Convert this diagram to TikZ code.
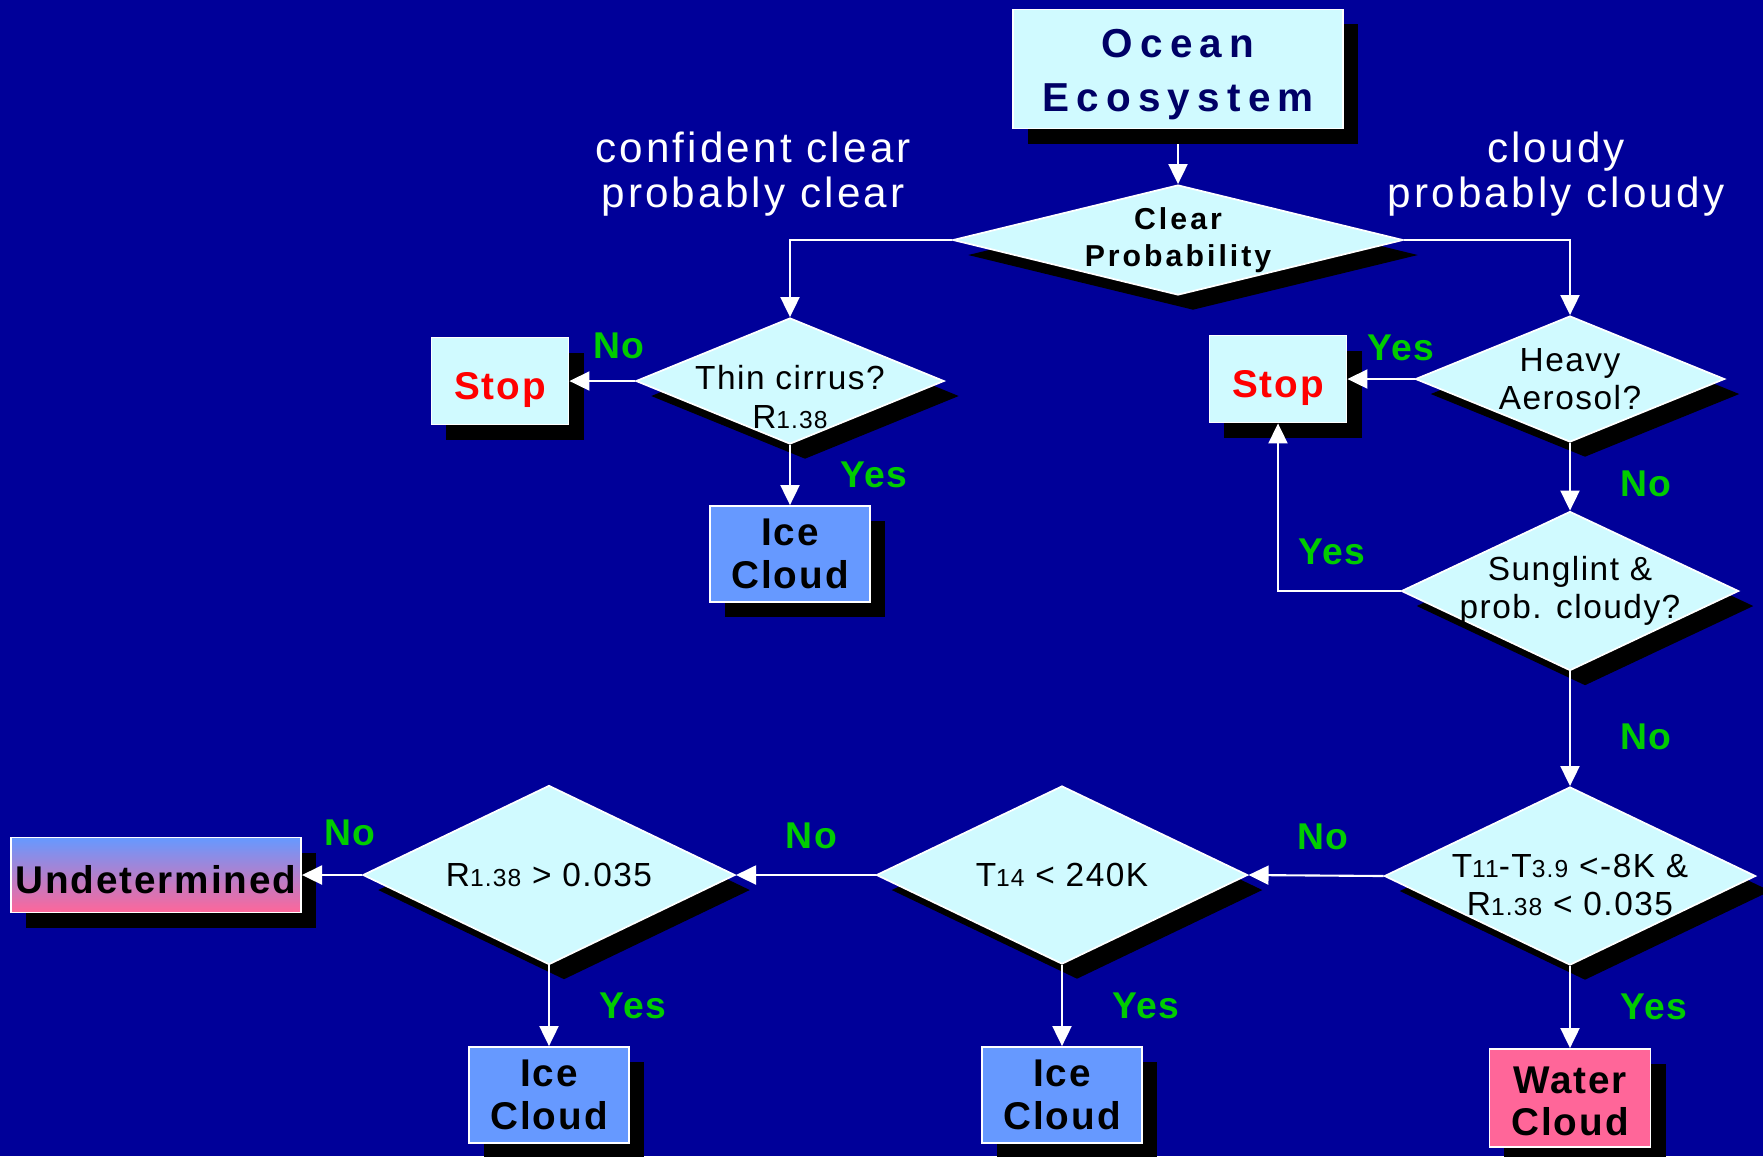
\documentclass[tikz,border=0pt]{standalone}
\usepackage{fontspec}
\setmainfont{Liberation Sans}
\newfontfamily\oceanfont{Liberation Sans}[LetterSpace=18]
\newfontfamily\clearfont{Liberation Sans}[LetterSpace=10]
\newfontfamily\regfont{Liberation Sans}[LetterSpace=7.5]
\newfontfamily\qfont{Liberation Sans}[LetterSpace=4.5]
\newfontfamily\boxfont{Liberation Sans}[LetterSpace=5]
\newfontfamily\lblfont{Liberation Sans}[LetterSpace=4]
\usepackage{tikz}
\usetikzlibrary{arrows.meta, positioning, shapes.geometric, shadows}
\definecolor{bgblue}{RGB}{0,0,153}
\definecolor{paleblue}{RGB}{208,250,255}
\definecolor{iceblue}{RGB}{102,153,255}
\definecolor{waterpink}{RGB}{255,102,153}
\definecolor{yesgreen}{RGB}{0,204,0}
\definecolor{navytext}{RGB}{0,0,102}
\definecolor{stopred}{RGB}{255,0,0}
\newcommand{\smallnum}[1]{{\fontsize{7}{8}\selectfont #1}}
\tikzset{
    shadow style/.style={general shadow={fill=black, shadow xshift=0.15cm, shadow yshift=-0.15cm}},
    box style/.style={draw=white, line width=0.5pt, rectangle, fill=paleblue, shadow style, inner sep=0pt, align=center, font=\boxfont\bfseries\fontsize{11}{12.2}\selectfont},
    decision style/.style={draw=white, line width=0.5pt, diamond, aspect=2.08, fill=paleblue, shadow style, inner sep=-4pt, align=center, font=\qfont\fontsize{9.5}{10.9}\selectfont},
    region style/.style={text=white, align=center, font=\regfont\fontsize{12}{12.8}\selectfont},
    label style/.style={text=yesgreen, inner sep=0pt, font=\lblfont\bfseries\fontsize{10.6}{12}\selectfont},
    arrow style/.style={-{Triangle[length=5.7pt, width=5.4pt]}, draw=white, line width=0.6pt},
}
\begin{document}
\begin{tikzpicture}[x=0.01cm, y=-0.01cm]
        \fill [bgblue] (0,0) rectangle (1763,1156);
        \useasboundingbox (0,0) rectangle (1763,1156);

        \node (ocean) [box style, text=navytext, font=\oceanfont\bfseries\fontsize{11.5}{15.4}\selectfont, minimum width=3.30cm, minimum height=1.19cm] at (1178,69) {\rule{0pt}{11pt}Ocean\\Ecosystem};
        \node (clear) [decision style, aspect=4.09, font=\clearfont\bfseries\fontsize{8.6}{10.6}\selectfont, minimum width=4.50cm, minimum height=1.10cm] at (1178,240) {Clear\\Probability};
        \node (lclear) [region style] at (753,174) {confident clear\\probably clear};
        \node (lcloudy) [region style] at (1556,174) {cloudy\\probably cloudy};

        \node (thin) [decision style, aspect=2.44, inner xsep=-8pt, inner ysep=-6pt, minimum width=3.08cm, minimum height=1.26cm] at (790,381) {\rule{0pt}{16pt}Thin cirrus?\\R\smallnum{1.38}};
        \node (stopl) [box style, text=stopred, minimum width=1.37cm, minimum height=0.87cm] at (500,381) {\rule{0pt}{12.7pt}Stop};
        \node (icea) [box style, fill=iceblue, minimum width=1.60cm, minimum height=0.96cm] at (790,554) {Ice\\Cloud};

        \node (heavy) [decision style, aspect=2.45, minimum width=3.09cm, minimum height=1.26cm] at (1570,379) {Heavy\\Aerosol?};
        \node (stopr) [box style, text=stopred, minimum width=1.37cm, minimum height=0.87cm] at (1278,379) {\rule{0pt}{12.7pt}Stop};
        \node (sung) [decision style, aspect=2.12, minimum width=3.37cm, minimum height=1.59cm] at (1570,591) {Sunglint \&\\prob. cloudy?};
        \node (tdiff) [decision style, minimum width=3.71cm, minimum height=1.78cm] at (1570,876) {\rule{0pt}{11.7pt}T\smallnum{11}-T\smallnum{3.9} <-8K \&\\R\smallnum{1.38} < 0.035};
        \node (water) [box style, fill=waterpink, minimum width=1.61cm, minimum height=0.98cm] at (1570,1098) {\rule{0pt}{9.5pt}Water\\Cloud};

        \node (tlow) [decision style, minimum width=3.71cm, minimum height=1.78cm] at (1062,875) {T\smallnum{14} < 240K};
        \node (iceb) [box style, fill=iceblue, minimum width=1.60cm, minimum height=0.96cm] at (1062,1095) {Ice\\Cloud};
        \node (rhigh) [decision style, minimum width=3.72cm, minimum height=1.79cm] at (549,875) {R\smallnum{1.38} > 0.035};
        \node (icec) [box style, fill=iceblue, minimum width=1.60cm, minimum height=0.96cm] at (549,1095) {Ice\\Cloud};
        \node (undet) [box style, top color=iceblue, bottom color=waterpink, minimum width=2.90cm, minimum height=0.75cm] at (156,875) {\rule{0pt}{10.8pt}Undetermined};

        \draw [arrow style] ([yshift=-0.15cm]ocean.south) -- (clear.north);
        \draw [arrow style] (clear.west) -| (thin.north);
        \draw [arrow style] (clear.east) -| (heavy.north);
        \draw [arrow style] (thin.west) -- node[label style, pos=0.25, above=6pt] (nothin) {No} (stopl.east);
        \draw [arrow style] (thin.south) -- node[label style, midway, right=14pt] (yesthin) {Yes} (icea.north);
        \draw [arrow style] (heavy.west) -- node[label style, pos=0.2, above=5pt] (yesheavy) {Yes} (stopr.east);
        \draw [arrow style] (heavy.south) -- node[label style, pos=0.6, right=14pt] (noheavy) {No} (sung.north);
        \draw [arrow style] (sung.west) -| node[label style, pos=0.28, above=7pt] (yessung) {Yes} (stopr.south);
        \draw [arrow style] (sung.south) -- node[label style, pos=0.57, right=14pt] (nosung) {No} (tdiff.north);
        \draw [arrow style] (tdiff.south) -- node[label style, midway, right=14pt] (yestdiff) {Yes} (water.north);
        \draw [arrow style] (tdiff.west) -- node[label style, pos=0.45, above=7pt] (notdiff) {No} (tlow.east);
        \draw [arrow style] (tlow.south) -- node[label style, midway, right=14pt] (yestlow) {Yes} (iceb.north);
        \draw [arrow style] (tlow.west) -- node[label style, pos=0.46, above=7pt] (notlow) {No} (rhigh.east);
        \draw [arrow style] (rhigh.south) -- node[label style, midway, right=14pt] (yesrhigh) {Yes} (icec.north);
        \draw [arrow style] (rhigh.west) -- node[label style, pos=0.2, above=8pt] (norhigh) {No} (undet.east);
    \end{tikzpicture}
\end{document}
